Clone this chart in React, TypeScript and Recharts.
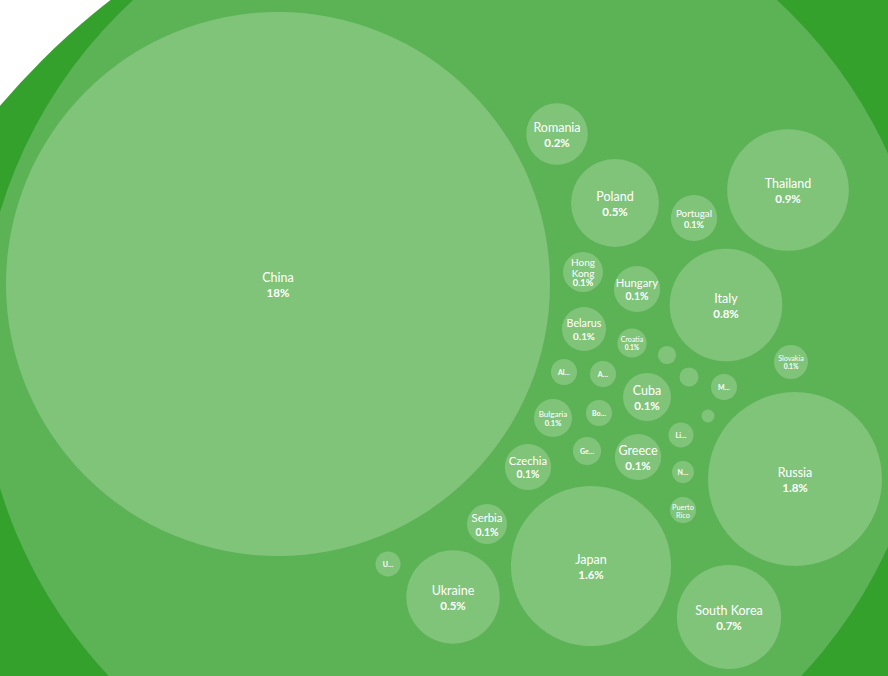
import { Scatter, ScatterChart, XAxis, YAxis, ZAxis } from "recharts"

// ── Chart size ────────────────────────────────────────────────────
const W = 888
const H = 676

// ── Country bubbles (share of total, %) ───────────────────────────
const countries = [
    "China", "Russia", "Japan", "Thailand", "Italy", "South Korea", "Ukraine", "Poland",
    "Romania", "Cuba", "Portugal", "Hungary", "Greece", "Czechia", "Belarus", "Hong\nKong",
    "Serbia", "Bulgaria", "Slovakia", "Croatia", "Ge…", "Puerto\nRico", "Al…", "A…",
    "Bo…", "M…", "Li…", "U…", "N…", "Latvia", "Estonia", "Malta",
]
const shares = [
    18, 1.84, 1.56, 0.9, 0.77, 0.66, 0.53, 0.47,
    0.23, 0.14, 0.13, 0.13, 0.13, 0.13, 0.118, 0.097,
    0.097, 0.088, 0.07, 0.052, 0.048, 0.041, 0.041, 0.041,
    0.041, 0.041, 0.038, 0.038, 0.029, 0.02, 0.022, 0.01,
]
// bubble centres in the chart's data space (x right, y down)
const posX = [
    278, 795, 591, 788, 726, 729, 453, 615,
    557, 647, 694, 637, 638, 528, 584, 583,
    487, 553, 791, 632, 587, 683, 564, 603,
    599, 724, 681, 388, 683, 667, 689, 708,
]
const posY = [
    284, 479, 566, 190, 305, 617, 597, 203,
    134, 397, 218, 289, 457, 467, 329, 272,
    524, 418, 362, 343, 451, 510, 372, 374,
    413, 387, 435, 564, 472, 355, 377, 416,
]

// ── Parent (group) bubbles ────────────────────────────────────────
const groupNames = ["All", "Asia & Europe"]
const groupValues = [131, 55]
const groupX = [560, 455]
const groupY = [580, 350]
const groupColors = ["#35a12d", "#5cb356"]

const BUBBLE_COLOR = "#80c47a"
const Z_MAX = 140
// China (18%) has a radius of 272px
const AREA_PER_UNIT = (Math.PI * 272 * 272) / 18

const countryData = countries.map((name, i) => ({
    name, value: shares[i], x: posX[i], y: posY[i],
}))
const groupData = groupNames.map((name, i) => ({
    name, value: groupValues[i], x: groupX[i], y: groupY[i], color: groupColors[i],
}))

const FONT = "Lato, 'Noto Sans', sans-serif"

const fmt = (v: number) => (v >= 10 ? v.toFixed(0) : v.toFixed(1)) + "%"

const radiusOf = (props: any) =>
    props.width ? props.width / 2 : Math.sqrt(Math.max(props.size || 0, 0) / Math.PI)

const GroupShape = (props: any) => {
    const { cx, cy, payload } = props
    return <circle cx={cx} cy={cy} r={radiusOf(props)} fill={payload.color} />
}

const BubbleShape = (props: any) => {
    const { cx, cy, payload } = props
    const r = radiusOf(props)
    const name: string = payload.name
    let label = null

    if (r >= 10 && name) {
        if (name.includes("…")) {
            label = (
                <text x={cx} y={cy + 2.5} textAnchor="middle" fill="#fff"
                    fontSize={7} fontWeight={700} fontFamily={FONT}>
                    {name}
                </text>
            )
        } else {
            // fit the name into ~1.5r, capped
            const lines = name.split("\n")
            const maxChars = Math.max(...lines.map(l => l.length))
            const fs = Math.min(lines.length > 1 ? 10 : 12.5, (3.4 * r) / maxChars)
            const valFs = Math.min(11.5, fs * 0.92)
            const showValue = r >= 14
            const nameLh = fs * (lines.length > 1 ? 1.05 : 1.25)
            const valLh = valFs * 1.25
            const total = nameLh * lines.length + (showValue ? valLh : 0)
            const top = cy - total / 2 + fs * 0.1
            label = (
                <g fontFamily={FONT} fill="#fff" textAnchor="middle">
                    {lines.map((l, i) => (
                        <text key={i} x={cx} y={top + nameLh * i + fs * 0.95} fontSize={fs}>
                            {l}
                        </text>
                    ))}
                    {showValue && (
                        <text x={cx} y={top + nameLh * lines.length + valFs * 0.95}
                            fontSize={valFs} fontWeight={700}>
                            {fmt(payload.value)}
                        </text>
                    )}
                </g>
            )
        }
    }

    return (
        <g>
            <circle cx={cx} cy={cy} r={r} fill={BUBBLE_COLOR} />
            {label}
        </g>
    )
}

export default function App() {
    return (
        <div style={{ position: "absolute", left: 0, top: 0, width: W, height: H, background: "#fff" }}>
            <ScatterChart width={W} height={H} margin={{ top: 0, right: 0, bottom: 0, left: 0 }}>
                <XAxis type="number" dataKey="x" domain={[0, W]} hide />
                <YAxis type="number" dataKey="y" domain={[0, H]} reversed hide />
                <ZAxis type="number" dataKey="value" domain={[0, Z_MAX]} range={[0, AREA_PER_UNIT * Z_MAX]} />
                <Scatter data={groupData} shape={GroupShape} isAnimationActive={false} />
                <Scatter data={countryData} shape={BubbleShape} isAnimationActive={false} />
            </ScatterChart>
        </div>
    )
}
